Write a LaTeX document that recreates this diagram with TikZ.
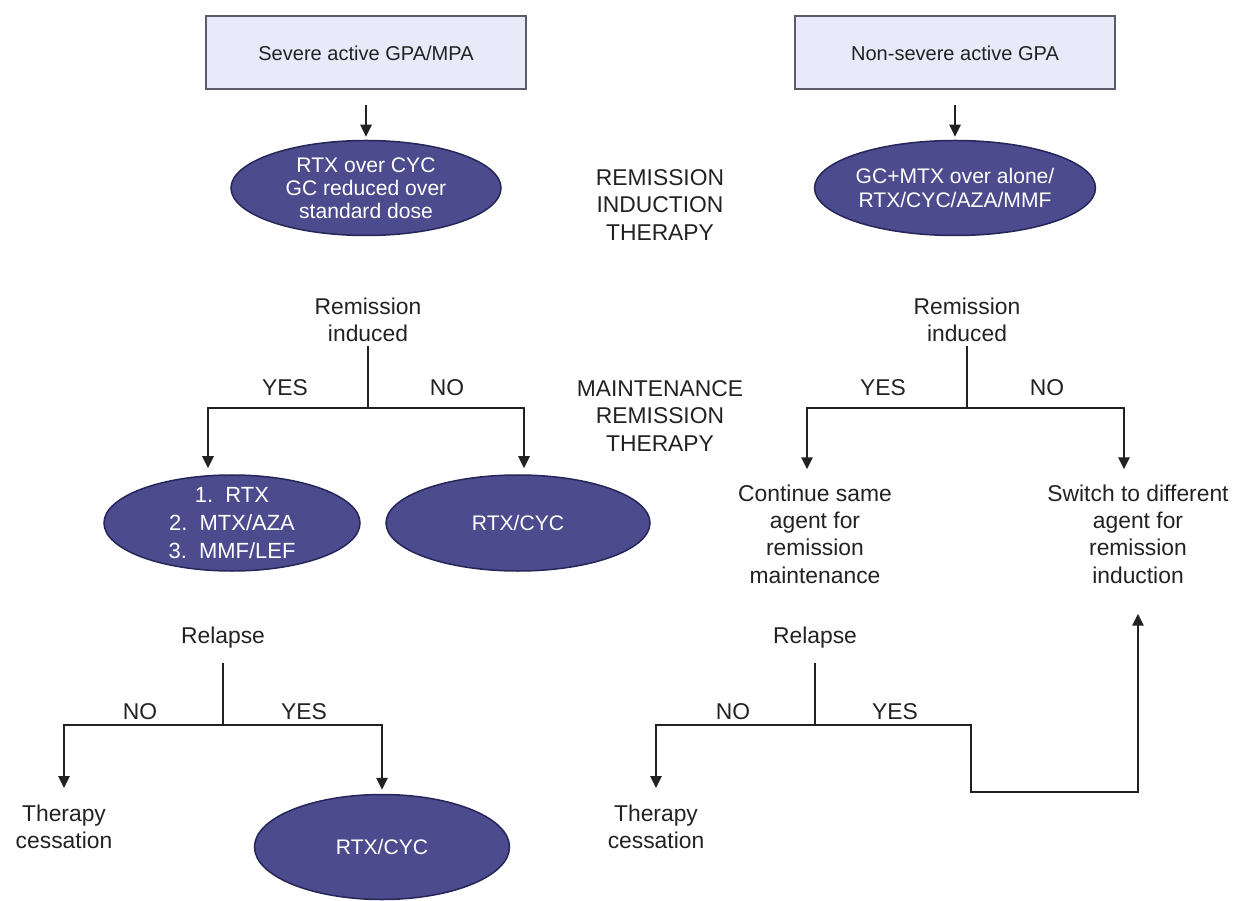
\documentclass[tikz,border=0pt]{standalone}
\usepackage{fontspec}
\setmainfont{Liberation Sans}
\usetikzlibrary{shapes.geometric,arrows.meta}
\definecolor{boxfill}{HTML}{E8EAFA}
\definecolor{boxline}{HTML}{5B5B6B}
\definecolor{ovalfill}{HTML}{4B4B8E}
\definecolor{ovalline}{HTML}{262659}
\definecolor{ink}{HTML}{222222}

\begin{document}
\begin{tikzpicture}[x=0.2mm,y=-0.2mm,
  box/.style={draw=boxline,fill=boxfill,line width=0.4mm,minimum width=64mm,minimum height=14.6mm,text=ink,font=\fontsize{11.4}{13}\selectfont},
  oval/.style={ellipse,draw=ovalline,fill=ovalfill,line width=0.3mm,inner sep=0pt,text=white,align=center,font=\fontsize{12}{13.2}\selectfont},
  lbl/.style={align=center,text=ink,inner sep=2pt,font=\fontsize{13}{15.5}\selectfont},
  ln/.style={line width=0.5mm,draw=ink},
  arr/.style={-{Triangle[width=2.2mm,length=2.4mm]}}]
\useasboundingbox (0,0) rectangle (1239,901);

\node[box] (sev) at (366,53) {Severe active GPA/MPA};
\node[box] (nonsev) at (955,53) {Non-severe active GPA};

\node[oval,minimum width=54mm,minimum height=19mm] (indL) at (366,188) {RTX over CYC\\GC reduced over\\standard dose};
\node[oval,minimum width=54mm,minimum height=19mm] (indR) at (955,188) {GC+MTX over alone/\\RTX/CYC/AZA/MMF};

\draw[ln,arr,shorten <=3mm,shorten >=0.6mm] (sev) -- (indL);
\draw[ln,arr,shorten <=3mm,shorten >=0.6mm] (nonsev) -- (indR);

\node[lbl] (headind) at (660,205) {REMISSION\\INDUCTION\\THERAPY};
\node[lbl] (headmnt) at (660,416) {MAINTENANCE\\REMISSION\\THERAPY};

% severe branch
\node[lbl] (remL) at (368,320) {Remission\\induced};
\coordinate (jL) at (368,408);
\coordinate (yesL) at (208,408);
\coordinate (noL) at (524,408);
\node[lbl] (yesLt) at (285,388) {YES};
\node[lbl] (noLt) at (447,388) {NO};
\node[oval,minimum width=51.2mm,minimum height=19.2mm,inner sep=-1mm,font=\fontsize{12.5}{16}\selectfont] (mntL) at (232,523) {1.\ \ RTX\\2.\ \ MTX/AZA\\3.\ \ MMF/LEF};
\node[oval,minimum width=52.8mm,minimum height=19.2mm] (cycL) at (518,523) {RTX/CYC};
\draw[ln] (remL) -- (jL);
\draw[ln,arr,shorten >=1.2mm] (jL) -- (yesL) -- (yesL |- mntL.north);
\draw[ln,arr,shorten >=1.2mm] (jL) -- (noL) -- (noL |- cycL.north);

\node[lbl] (relL) at (223,638) {Relapse};
\coordinate (jL2) at (223,725);
\coordinate (noL2) at (64,725);
\coordinate (yesL2) at (382,725);
\node[lbl] (noL2t) at (140,712) {NO};
\node[lbl] (yesL2t) at (304,712) {YES};
\node[lbl] (stopL) at (64,827) {Therapy\\cessation};
\node[oval,minimum width=51mm,minimum height=21mm] (cycL2) at (382,847) {RTX/CYC};
\draw[ln,shorten <=2mm] (relL) -- (jL2);
\draw[ln,arr,shorten >=2.6mm] (jL2) -- (noL2) -- (stopL);
\draw[ln,arr,shorten >=0.8mm] (jL2) -- (yesL2) -- (cycL2);

% non-severe branch
\node[lbl] (remR) at (967,320) {Remission\\induced};
\coordinate (jR) at (967,408);
\coordinate (yesR) at (807,408);
\coordinate (noR) at (1124,408);
\node[lbl] (yesRt) at (883,388) {YES};
\node[lbl] (noRt) at (1047,388) {NO};
\node[lbl] (contR) at (815,534) {Continue same\\agent for\\remission\\maintenance};
\node[lbl] (swR) at (1138,534) {Switch to different\\agent for\\remission\\induction};
\draw[ln] (remR) -- (jR);
\draw[ln,arr,shorten >=2.3mm] (jR) -- (yesR) -- (yesR |- contR.north);
\draw[ln,arr,shorten >=2.3mm] (jR) -- (noR) -- (noR |- swR.north);

\node[lbl] (relR) at (815,638) {Relapse};
\coordinate (jR2) at (815,725);
\coordinate (noR2) at (656,725);
\coordinate (kR) at (971,792);
\node[lbl] (noR2t) at (733,712) {NO};
\node[lbl] (yesR2t) at (895,712) {YES};
\node[lbl] (stopR) at (656,827) {Therapy\\cessation};
\draw[ln,shorten <=2mm] (relR) -- (jR2);
\draw[ln,arr,shorten >=2.6mm] (jR2) -- (noR2) -- (stopR);
\draw[ln,arr,shorten >=5.3mm] (jR2) -| (kR) -| (swR);
\end{tikzpicture}
\end{document}
